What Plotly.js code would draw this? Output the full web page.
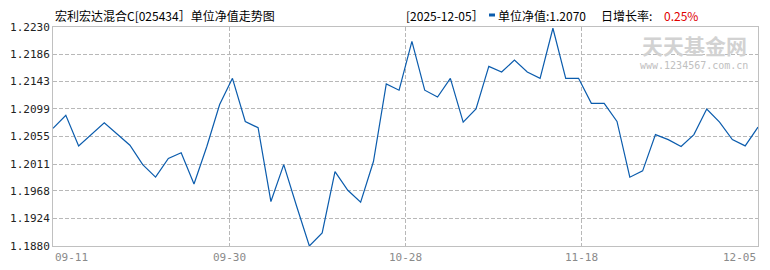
<!DOCTYPE html>
<html>
<head>
<meta charset="utf-8">
<script src="https://cdn.plot.ly/plotly-3.0.1.min.js"></script>
<style>html,body{margin:0;padding:0;background:#fff;}#chart{width:770px;height:270px;}</style>
</head>
<body>
<div id="chart"></div>
<script>
const fundTitle = "宏利宏达混合C[025434］单位净值走势图";
const dates = ["09-11","09-12","09-15","09-16","09-17","09-18","09-19","09-22","09-23","09-24","09-25","09-26","09-29","09-30",
  "10-09","10-10","10-13","10-14","10-15","10-16","10-17","10-20","10-21","10-22","10-23","10-24","10-27","10-28","10-29","10-30","10-31",
  "11-03","11-04","11-05","11-06","11-07","11-10","11-11","11-12","11-13","11-14","11-17","11-18","11-19","11-20","11-21","11-24","11-25","11-26","11-27","11-28",
  "12-01","12-02","12-03","12-04","12-05"];
const nav = [1.2068,1.2089,1.2040,1.2059,1.2077,1.2059,1.2041,1.2010,1.1990,1.2020,1.2029,1.1979,1.2039,1.2106,
  1.2148,1.2079,1.2069,1.1951,1.2010,1.1944,1.1880,1.1901,1.1999,1.1969,1.1950,1.2015,1.2139,1.2129,1.2207,1.2129,1.2118,
  1.2148,1.2078,1.2099,1.2167,1.2158,1.2177,1.2158,1.2148,1.2228,1.2148,1.2148,1.2108,1.2108,1.2079,1.1990,1.2000,1.2058,1.2050,1.2039,1.2058,
  1.2099,1.2078,1.2050,1.2040,1.2070];
const yTickVals = [1.1880,1.1924,1.1968,1.2011,1.2055,1.2099,1.2143,1.2186,1.2230];
const yTickText = ["1.1880","1.1924","1.1968","1.2011","1.2055","1.2099","1.2143","1.2186","1.2230"];
const xTickLabels = ["09-11","09-30","10-28","11-18","12-05"];
const lastDate = "2025-12-05";

const n = nav.length;
const xs = nav.map((v,i)=>i);
const xTickPos = xTickLabels.map((t,k)=>(n-1)*k/(xTickLabels.length-1));
const lastVal = nav[n-1];
const rate = ((nav[n-1]/nav[n-2]-1)*100).toFixed(2) + "%";

const cjk = "'Noto Sans CJK SC', sans-serif";
const mono = "'DejaVu Sans Mono', monospace";
const W = 770, H = 270, L = 53, R = 12, T = 27, B = 24;
const pw = W-L-R, ph = H-T-B;
const px = v => (v-L)/pw;
const py = v => (H-B-v)/ph;

const annotations = [];
// x tick labels
xTickLabels.forEach((t,k)=>{
  annotations.push({x:xTickPos[k], xref:'x', y:py(257), yref:'paper', text:t, showarrow:false,
    xanchor: k===0 ? 'left' : (k===xTickLabels.length-1 ? 'right' : 'center'), yanchor:'middle',
    font:{family:mono, size:11, color:'#8a8a8a'}});
});
// header
annotations.push({x:px(53), xref:'paper', y:py(15), yref:'paper', text:fundTitle, showarrow:false, xanchor:'left', yanchor:'middle', font:{family:cjk, size:12, color:'#000'}});
annotations.push({x:px(404), xref:'paper', y:py(15), yref:'paper', text:"["+lastDate+"］", showarrow:false, xanchor:'left', yanchor:'middle', font:{family:cjk, size:12, color:'#000'}});
annotations.push({x:px(496), xref:'paper', y:py(15), yref:'paper', text:"单位净值:"+lastVal.toFixed(4), showarrow:false, xanchor:'left', yanchor:'middle', font:{family:cjk, size:12, color:'#000'}});
annotations.push({x:px(599), xref:'paper', y:py(15), yref:'paper', text:"日增长率:", showarrow:false, xanchor:'left', yanchor:'middle', font:{family:cjk, size:12, color:'#000'}});
annotations.push({x:px(662), xref:'paper', y:py(15), yref:'paper', text:rate, showarrow:false, xanchor:'left', yanchor:'middle', font:{family:cjk, size:12, color:'#e00000'}});
// watermark
annotations.push({x:px(694), xref:'paper', y:py(45), yref:'paper', text:"<b>天天基金网</b>", showarrow:false, xanchor:'center', yanchor:'middle', font:{family:cjk, size:21, color:'#d2d2d2'}});
annotations.push({x:px(694), xref:'paper', y:py(65), yref:'paper', text:"www.1234567.com.cn", showarrow:false, xanchor:'center', yanchor:'middle', font:{family:mono, size:10, color:'#c0c0c0'}});

const shapes = [
  {type:'rect', xref:'paper', yref:'paper', x0:px(489), x1:px(495), y0:py(16.5), y1:py(13.5), fillcolor:'#0b5cad', line:{width:0}}
];

const trace = {x:xs, y:nav, type:'scatter', mode:'lines', line:{color:'#0b5cad', width:1.2}, hoverinfo:'skip'};

const layout = {
  width:W, height:H, margin:{l:L, r:R, t:T, b:B}, paper_bgcolor:'#fff', plot_bgcolor:'#fff', showlegend:false,
  xaxis:{range:[0,n-1], tickvals:xTickPos, showticklabels:false, ticks:'', showgrid:true, gridcolor:'#b8b8b8', griddash:'4px,2px', gridwidth:1,
    showline:true, mirror:true, linecolor:'#c0c0c0', linewidth:1, zeroline:false, fixedrange:true},
  yaxis:{range:[yTickVals[0], yTickVals[yTickVals.length-1]], tickvals:yTickVals, ticktext:yTickText, ticks:'', showgrid:true, gridcolor:'#b8b8b8', griddash:'4px,2px', gridwidth:1,
    showline:true, mirror:true, linecolor:'#c0c0c0', linewidth:1, zeroline:false, tickfont:{family:mono, size:11, color:'#222'}, fixedrange:true},
  annotations:annotations, shapes:shapes
};
Plotly.newPlot('chart', [trace], layout, {staticPlot:true, displayModeBar:false});
</script>
</body>
</html>
